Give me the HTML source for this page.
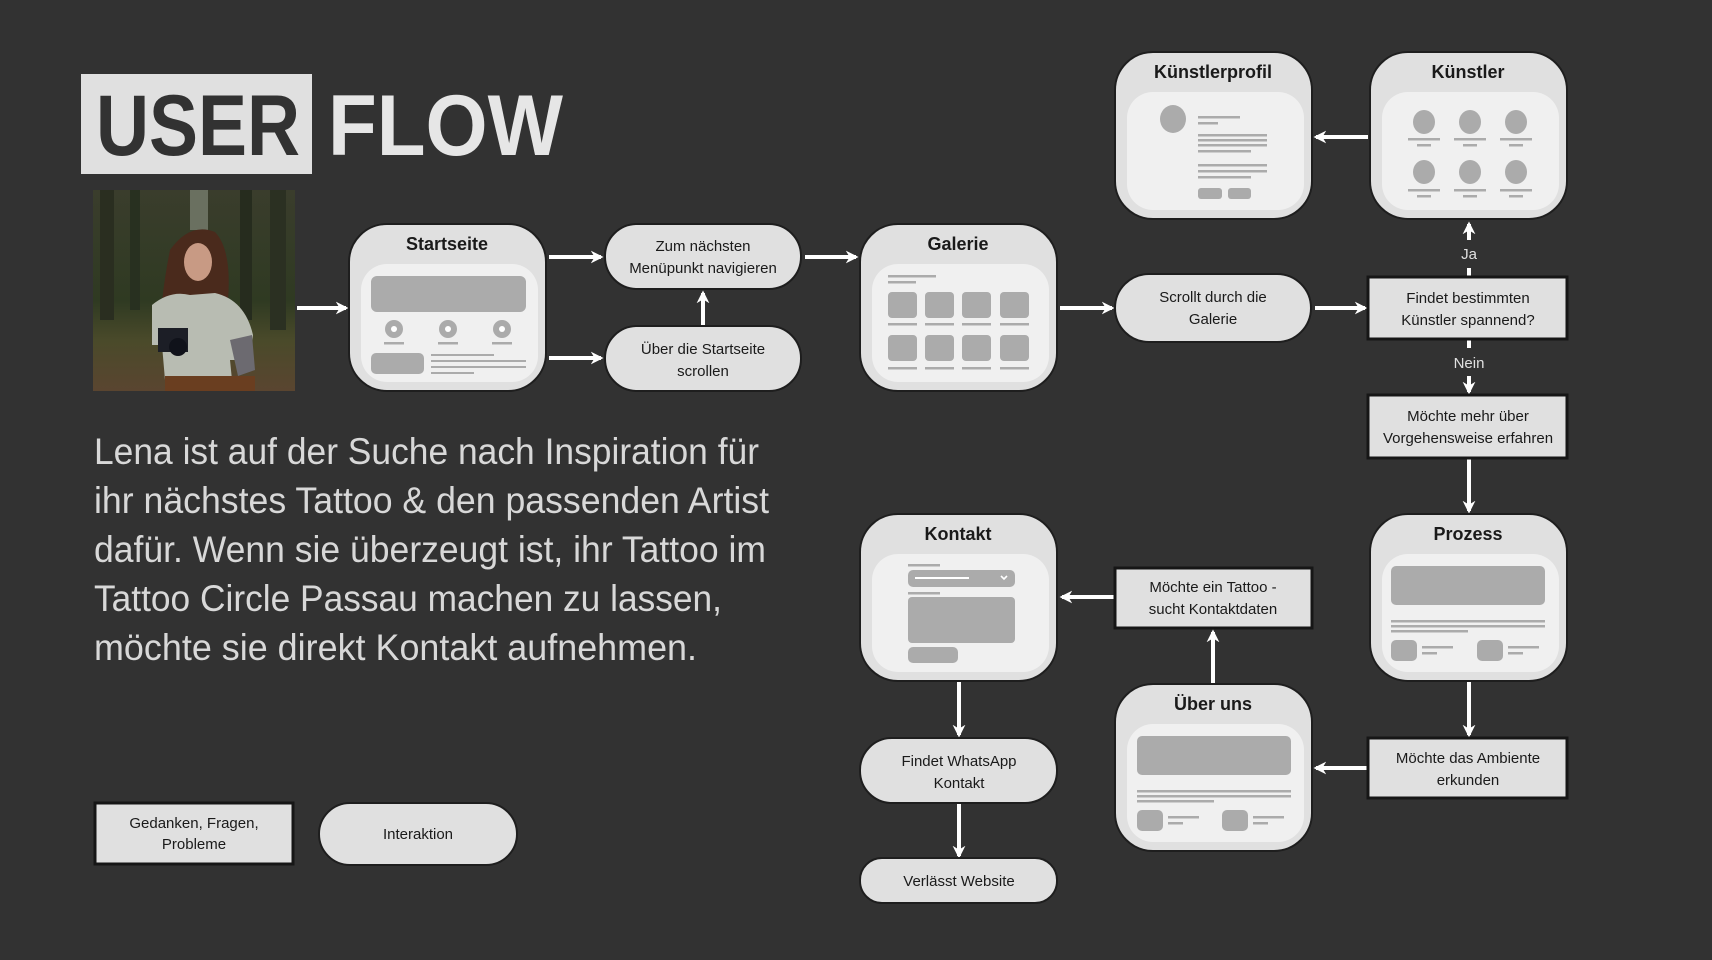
<!DOCTYPE html>
<html><head><meta charset="utf-8">
<style>
html,body{margin:0;padding:0;background:#323232;}
svg{display:block;}
text{font-family:"Liberation Sans",sans-serif;}
</style></head>
<body>
<svg width="1712" height="960" viewBox="0 0 1712 960" xmlns="http://www.w3.org/2000/svg">
<defs>
<marker id="ah" viewBox="0 0 10 10" refX="8" refY="5" markerWidth="3.2" markerHeight="3.6" orient="auto" markerUnits="strokeWidth">
<path d="M0,0 L10,5 L0,10 L3,5 Z" fill="#fff"/>
</marker>
<linearGradient id="bgp" x1="0" y1="0" x2="0" y2="1">
<stop offset="0" stop-color="#3a3d2c"/><stop offset="0.55" stop-color="#2f3a22"/><stop offset="0.75" stop-color="#4a4a2a"/><stop offset="1" stop-color="#5a4530"/>
</linearGradient>
</defs>
<rect width="1712" height="960" fill="#323232"/>

<!-- Title -->
<rect x="81" y="74" width="231" height="100" fill="#e0e0e0"/>
<text x="96" y="155" font-size="86" font-weight="bold" fill="#323232" textLength="204" lengthAdjust="spacingAndGlyphs">USER</text>
<text x="328" y="155" font-size="86" font-weight="bold" fill="#e6e6e6" textLength="235" lengthAdjust="spacingAndGlyphs">FLOW</text>

<!-- Photo -->
<g>
<rect x="93" y="190" width="202" height="201" fill="url(#bgp)"/>
<rect x="100" y="190" width="14" height="130" fill="#2a2e20"/>
<rect x="130" y="190" width="10" height="120" fill="#283020"/>
<rect x="240" y="190" width="12" height="130" fill="#262c1e"/>
<rect x="270" y="190" width="16" height="140" fill="#2b3022"/>
<rect x="190" y="190" width="18" height="40" fill="#6a7060"/>
<path d="M170,250 Q190,222 215,232 Q232,250 228,300 L232,340 L160,340 Q160,300 170,250Z" fill="#4a2a1c"/>
<ellipse cx="198" cy="262" rx="14" ry="19" fill="#c89a84"/>
<path d="M152,305 Q170,290 190,295 L215,293 Q245,300 253,335 L250,360 L230,360 L232,380 L165,380 L162,345 L152,345Z" fill="#b8bcb2"/>
<rect x="158" y="328" width="30" height="24" fill="#1c1e26"/>
<circle cx="178" cy="347" r="9" fill="#10121a"/>
<path d="M230,340 L252,335 L255,370 L238,376Z" fill="#6c6a70"/>
<rect x="165" y="376" width="90" height="15" fill="#6a3e20"/>
</g>

<!-- Paragraph -->
<g font-size="37" fill="#d8d8d8">
<text x="94" y="464" textLength="665" lengthAdjust="spacingAndGlyphs">Lena ist auf der Suche nach Inspiration für</text>
<text x="94" y="513" textLength="675" lengthAdjust="spacingAndGlyphs">ihr nächstes Tattoo &amp; den passenden Artist</text>
<text x="94" y="562" textLength="672" lengthAdjust="spacingAndGlyphs">dafür. Wenn sie überzeugt ist, ihr Tattoo im</text>
<text x="94" y="611" textLength="628" lengthAdjust="spacingAndGlyphs">Tattoo Circle Passau machen zu lassen,</text>
<text x="94" y="660" textLength="603" lengthAdjust="spacingAndGlyphs">möchte sie direkt Kontakt aufnehmen.</text>
</g>

<!-- Arrows -->
<g stroke="#fff" stroke-width="4" fill="none" marker-end="url(#ah)">
<line x1="297" y1="308" x2="346" y2="308"/>
<line x1="549" y1="257" x2="601" y2="257"/>
<line x1="549" y1="358" x2="601" y2="358"/>
<line x1="703" y1="325" x2="703" y2="293"/>
<line x1="805" y1="257" x2="856" y2="257"/>
<line x1="1060" y1="308" x2="1112" y2="308"/>
<line x1="1315" y1="308" x2="1365" y2="308"/>
<line x1="1469" y1="277" x2="1469" y2="224"/>
<line x1="1469" y1="340" x2="1469" y2="392"/>
<line x1="1469" y1="458" x2="1469" y2="511"/>
<line x1="1368" y1="137" x2="1316" y2="137"/>
<line x1="1469" y1="680" x2="1469" y2="735"/>
<line x1="1368" y1="768" x2="1316" y2="768"/>
<line x1="1213" y1="684" x2="1213" y2="632"/>
<line x1="1115" y1="597" x2="1062" y2="597"/>
<line x1="959" y1="680" x2="959" y2="735"/>
<line x1="959" y1="803" x2="959" y2="856"/>
</g>
<rect x="1449" y="240" width="40" height="28" fill="#323232"/>
<text x="1469" y="259" font-size="15" fill="#e0e0e0" text-anchor="middle">Ja</text>
<rect x="1445" y="348" width="48" height="28" fill="#323232"/>
<text x="1469" y="368" font-size="15" fill="#e0e0e0" text-anchor="middle">Nein</text>

<!-- Page nodes -->
<g font-size="18" font-weight="bold" fill="#1a1a1a" text-anchor="middle">
<!-- Startseite -->
<g transform="translate(349,224)">
<rect width="197" height="167" rx="38" fill="#e0e0e0" stroke="#1e1e1e" stroke-width="2"/>
<rect x="12" y="40" width="177" height="118" rx="26" fill="#f0f0f0"/>
<text x="98" y="26">Startseite</text>
<rect x="22" y="52" width="155" height="36" rx="6" fill="#ababab"/>
<g fill="#ababab"><circle cx="45" cy="105" r="9"/><circle cx="99" cy="105" r="9"/><circle cx="153" cy="105" r="9"/>
<rect x="35" y="118" width="20" height="2.5"/><rect x="89" y="118" width="20" height="2.5"/><rect x="143" y="118" width="20" height="2.5"/>
<rect x="22" y="129" width="53" height="21" rx="5"/>
<rect x="82" y="130" width="63" height="2"/><rect x="82" y="136" width="95" height="2"/><rect x="82" y="142" width="95" height="2"/><rect x="82" y="148" width="43" height="2"/></g>
<g fill="#fff"><circle cx="45" cy="105" r="3"/><circle cx="99" cy="105" r="3"/><circle cx="153" cy="105" r="3"/></g>
</g>
<!-- Galerie -->
<g transform="translate(860,224)">
<rect width="197" height="167" rx="38" fill="#e0e0e0" stroke="#1e1e1e" stroke-width="2"/>
<rect x="12" y="40" width="177" height="118" rx="26" fill="#f0f0f0"/>
<text x="98" y="26">Galerie</text>
<g fill="#ababab">
<rect x="28" y="51" width="48" height="2.5"/><rect x="28" y="57" width="28" height="2.5"/>
<rect x="28" y="68" width="29" height="26" rx="4"/><rect x="65" y="68" width="29" height="26" rx="4"/><rect x="102" y="68" width="29" height="26" rx="4"/><rect x="140" y="68" width="29" height="26" rx="4"/>
<rect x="28" y="99" width="29" height="2.5"/><rect x="65" y="99" width="29" height="2.5"/><rect x="102" y="99" width="29" height="2.5"/><rect x="140" y="99" width="29" height="2.5"/>
<rect x="28" y="111" width="29" height="26" rx="4"/><rect x="65" y="111" width="29" height="26" rx="4"/><rect x="102" y="111" width="29" height="26" rx="4"/><rect x="140" y="111" width="29" height="26" rx="4"/>
<rect x="28" y="143" width="29" height="2.5"/><rect x="65" y="143" width="29" height="2.5"/><rect x="102" y="143" width="29" height="2.5"/><rect x="140" y="143" width="29" height="2.5"/>
</g></g>
<!-- Künstlerprofil -->
<g transform="translate(1115,52)">
<rect width="197" height="167" rx="38" fill="#e0e0e0" stroke="#1e1e1e" stroke-width="2"/>
<rect x="12" y="40" width="177" height="118" rx="26" fill="#f0f0f0"/>
<text x="98" y="26">Künstlerprofil</text>
<g fill="#ababab">
<ellipse cx="58" cy="67" rx="13" ry="14"/>
<rect x="83" y="64" width="42" height="2.5"/><rect x="83" y="70" width="20" height="2.5"/>
<rect x="83" y="82" width="69" height="2.5"/><rect x="83" y="87" width="69" height="2.5"/><rect x="83" y="92" width="69" height="2.5"/><rect x="83" y="98" width="53" height="2.5"/>
<rect x="83" y="112" width="69" height="2.5"/><rect x="83" y="118" width="69" height="2.5"/><rect x="83" y="124" width="53" height="2.5"/>
<rect x="83" y="136" width="24" height="11" rx="3"/><rect x="113" y="136" width="23" height="11" rx="3"/>
</g></g>
<!-- Künstler -->
<g transform="translate(1370,52)">
<rect width="197" height="167" rx="38" fill="#e0e0e0" stroke="#1e1e1e" stroke-width="2"/>
<rect x="12" y="40" width="177" height="118" rx="26" fill="#f0f0f0"/>
<text x="98" y="26">Künstler</text>
<g fill="#ababab">
<ellipse cx="54" cy="70" rx="11" ry="12"/><ellipse cx="100" cy="70" rx="11" ry="12"/><ellipse cx="146" cy="70" rx="11" ry="12"/>
<rect x="38" y="86" width="32" height="2.5"/><rect x="84" y="86" width="32" height="2.5"/><rect x="130" y="86" width="32" height="2.5"/>
<rect x="47" y="92" width="14" height="2.5"/><rect x="93" y="92" width="14" height="2.5"/><rect x="139" y="92" width="14" height="2.5"/>
<ellipse cx="54" cy="120" rx="11" ry="12"/><ellipse cx="100" cy="120" rx="11" ry="12"/><ellipse cx="146" cy="120" rx="11" ry="12"/>
<rect x="38" y="137" width="32" height="2.5"/><rect x="84" y="137" width="32" height="2.5"/><rect x="130" y="137" width="32" height="2.5"/>
<rect x="47" y="143" width="14" height="2.5"/><rect x="93" y="143" width="14" height="2.5"/><rect x="139" y="143" width="14" height="2.5"/>
</g></g>
<!-- Prozess -->
<g transform="translate(1370,514)">
<rect width="197" height="167" rx="38" fill="#e0e0e0" stroke="#1e1e1e" stroke-width="2"/>
<rect x="12" y="40" width="177" height="118" rx="26" fill="#f0f0f0"/>
<text x="98" y="26">Prozess</text>
<g fill="#ababab">
<rect x="21" y="52" width="154" height="39" rx="5"/>
<rect x="21" y="106" width="154" height="2.5"/><rect x="21" y="111" width="154" height="2.5"/><rect x="21" y="116" width="77" height="2.5"/>
<rect x="21" y="126" width="26" height="21" rx="5"/><rect x="52" y="132" width="31" height="2.5"/><rect x="52" y="138" width="15" height="2.5"/>
<rect x="107" y="126" width="26" height="21" rx="5"/><rect x="138" y="132" width="31" height="2.5"/><rect x="138" y="138" width="15" height="2.5"/>
</g></g>
<!-- Über uns -->
<g transform="translate(1115,684)">
<rect width="197" height="167" rx="38" fill="#e0e0e0" stroke="#1e1e1e" stroke-width="2"/>
<rect x="12" y="40" width="177" height="118" rx="26" fill="#f0f0f0"/>
<text x="98" y="26">Über uns</text>
<g fill="#ababab">
<rect x="22" y="52" width="154" height="39" rx="5"/>
<rect x="22" y="106" width="154" height="2.5"/><rect x="22" y="111" width="154" height="2.5"/><rect x="22" y="116" width="77" height="2.5"/>
<rect x="22" y="126" width="26" height="21" rx="5"/><rect x="53" y="132" width="31" height="2.5"/><rect x="53" y="138" width="15" height="2.5"/>
<rect x="107" y="126" width="26" height="21" rx="5"/><rect x="138" y="132" width="31" height="2.5"/><rect x="138" y="138" width="15" height="2.5"/>
</g></g>
<!-- Kontakt -->
<g transform="translate(860,514)">
<rect width="197" height="167" rx="38" fill="#e0e0e0" stroke="#1e1e1e" stroke-width="2"/>
<rect x="12" y="40" width="177" height="118" rx="26" fill="#f0f0f0"/>
<text x="98" y="26">Kontakt</text>
<g fill="#ababab">
<rect x="48" y="50" width="32" height="2.5"/>
<rect x="48" y="56" width="107" height="17" rx="5"/>
<rect x="48" y="78" width="32" height="2.5"/>
<rect x="48" y="83" width="107" height="46" rx="4"/>
<rect x="48" y="133" width="50" height="16" rx="5"/>
</g>
<rect x="55" y="63" width="54" height="2" fill="#fff"/>
<path d="M141,62 l3,3 l3,-3" stroke="#fff" stroke-width="1.6" fill="none"/>
</g>
</g>

<!-- Pills -->
<g font-size="15" fill="#1a1a1a" text-anchor="middle">
<rect x="605" y="224" width="196" height="65" rx="32" fill="#e0e0e0" stroke="#1e1e1e" stroke-width="2"/>
<text x="703" y="251">Zum nächsten</text><text x="703" y="273">Menüpunkt navigieren</text>
<rect x="605" y="326" width="196" height="65" rx="32" fill="#e0e0e0" stroke="#1e1e1e" stroke-width="2"/>
<text x="703" y="354">Über die Startseite</text><text x="703" y="376">scrollen</text>
<rect x="1115" y="274" width="196" height="68" rx="34" fill="#e0e0e0" stroke="#1e1e1e" stroke-width="2"/>
<text x="1213" y="302">Scrollt durch die</text><text x="1213" y="324">Galerie</text>
<rect x="860" y="738" width="197" height="65" rx="32" fill="#e0e0e0" stroke="#1e1e1e" stroke-width="2"/>
<text x="959" y="766">Findet WhatsApp</text><text x="959" y="788">Kontakt</text>
<rect x="860" y="858" width="197" height="45" rx="22" fill="#e0e0e0" stroke="#1e1e1e" stroke-width="2"/>
<text x="959" y="886">Verlässt Website</text>
<rect x="319" y="803" width="198" height="62" rx="31" fill="#e0e0e0" stroke="#1e1e1e" stroke-width="2"/>
<text x="418" y="839">Interaktion</text>

<!-- Rect boxes -->
<rect x="1368" y="277" width="199" height="62" fill="#e0e0e0" stroke="#161616" stroke-width="3"/>
<text x="1468" y="303">Findet bestimmten</text><text x="1468" y="325">Künstler spannend?</text>
<rect x="1368" y="395" width="199" height="63" fill="#e0e0e0" stroke="#161616" stroke-width="3"/>
<text x="1468" y="421">Möchte mehr über</text><text x="1468" y="443">Vorgehensweise erfahren</text>
<rect x="1368" y="738" width="199" height="60" fill="#e0e0e0" stroke="#161616" stroke-width="3"/>
<text x="1468" y="763">Möchte das Ambiente</text><text x="1468" y="785">erkunden</text>
<rect x="1115" y="568" width="197" height="60" fill="#e0e0e0" stroke="#161616" stroke-width="3"/>
<text x="1213" y="592">Möchte ein Tattoo -</text><text x="1213" y="614">sucht Kontaktdaten</text>
<rect x="95" y="803" width="198" height="61" fill="#e0e0e0" stroke="#161616" stroke-width="3"/>
<text x="194" y="828">Gedanken, Fragen,</text><text x="194" y="849">Probleme</text>
</g>
</svg>
</body></html>
